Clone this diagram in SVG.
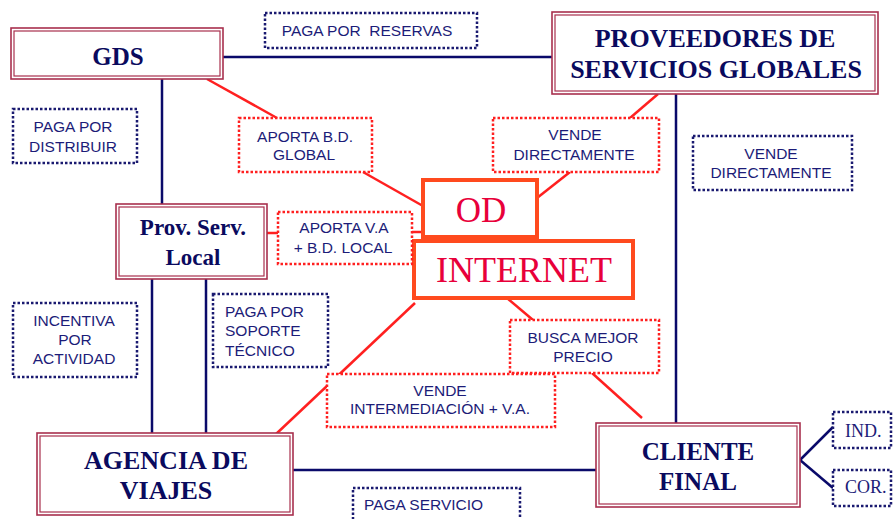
<svg xmlns="http://www.w3.org/2000/svg" width="893" height="519" viewBox="0 0 893 519">
<style>
.bg{fill:#ffffff}
.nl{stroke:#0a0a6a;stroke-width:2.5;fill:none}
.rl{stroke:#ff2020;stroke-width:2.5;fill:none}
.outer{fill:#ffffff;stroke:#a8304e;stroke-width:1.6}
.inner{fill:none;stroke:#a8304e;stroke-width:1.2}
.nd{fill:#ffffff;stroke:#1a1a70;stroke-width:2.5;stroke-dasharray:2.5 2}
.rd{fill:#ffffff;stroke:#ff2020;stroke-width:2.5;stroke-dasharray:2.5 2}
.ob{fill:#ffffff;stroke:#ff4a1e;stroke-width:4}
.h{font-family:"Liberation Serif","Times New Roman",serif;font-weight:bold;fill:#0a0a5e;text-anchor:middle}
.s{font-family:"Liberation Sans",Arial,sans-serif;font-size:15.5px;fill:#1c1c78;text-anchor:middle;white-space:pre}
.sl{text-anchor:start}
.o{font-family:"Liberation Serif","Times New Roman",serif;fill:#e8003a;text-anchor:middle}
.t{font-family:"Liberation Serif","Times New Roman",serif;font-size:18px;fill:#1c1c78}
</style>
<rect class="bg" x="0" y="0" width="893" height="519"/>
<g id="connectors">
<line class="nl" x1="223" y1="57" x2="552" y2="57"/>
<line class="nl" x1="162" y1="79" x2="162" y2="204"/>
<line class="nl" x1="152" y1="279" x2="152" y2="433"/>
<line class="nl" x1="206" y1="279" x2="206" y2="433"/>
<line class="nl" x1="676" y1="94" x2="676" y2="423"/>
<line class="nl" x1="293" y1="470" x2="596" y2="470"/>
<line class="nl" x1="800" y1="460" x2="833" y2="427"/>
<line class="nl" x1="800" y1="460" x2="833" y2="488"/>
<line class="rl" x1="207" y1="79" x2="277" y2="118"/>
<line class="rl" x1="363" y1="172" x2="423" y2="206"/>
<line class="rl" x1="658" y1="94" x2="630" y2="118"/>
<line class="rl" x1="570" y1="172" x2="537" y2="198"/>
<line class="rl" x1="267" y1="233" x2="278" y2="233"/>
<line class="rl" x1="412" y1="232" x2="423" y2="232"/>
<line class="rl" x1="415" y1="303" x2="275" y2="435"/>
<line class="rl" x1="507" y1="298" x2="533" y2="320"/>
<line class="rl" x1="592" y1="373" x2="642" y2="418"/>
</g>
<g id="gds">
<rect class="outer" x="11" y="28" width="212" height="51"/>
<rect class="inner" x="14" y="31" width="206" height="45"/>
<text class="h" x="118" y="65" font-size="25">GDS</text>
</g>
<g id="proveedores">
<rect class="outer" x="552" y="12" width="326" height="82"/>
<rect class="inner" x="555" y="15" width="320" height="76"/>
<text class="h" x="715" y="47" font-size="26">PROVEEDORES DE</text>
<text class="h" x="716" y="78" font-size="26">SERVICIOS GLOBALES</text>
</g>
<g id="provlocal">
<rect class="outer" x="116" y="204" width="151" height="75"/>
<rect class="inner" x="119" y="207" width="145" height="69"/>
<text class="h" x="193" y="235" font-size="23">Prov. Serv.</text>
<text class="h" x="193" y="265" font-size="23">Local</text>
</g>
<g id="agencia">
<rect class="outer" x="37" y="433" width="256" height="82"/>
<rect class="inner" x="40" y="436" width="250" height="76"/>
<text class="h" x="166" y="469" font-size="26">AGENCIA DE</text>
<text class="h" x="166" y="499" font-size="26">VIAJES</text>
</g>
<g id="cliente">
<rect class="outer" x="596" y="423" width="204" height="84"/>
<rect class="inner" x="599" y="426" width="198" height="78"/>
<text class="h" x="698" y="460" font-size="25">CLIENTE</text>
<text class="h" x="698" y="490" font-size="25">FINAL</text>
</g>
<g id="od">
<rect class="ob" x="423" y="180" width="114" height="57"/>
<text class="o" x="481" y="222" font-size="35">OD</text>
</g>
<g id="internet">
<rect class="ob" x="414" y="241" width="219" height="57"/>
<text class="o" x="524" y="282" font-size="36">INTERNET</text>
</g>
<g id="paga-reservas">
<rect class="nd" x="265" y="13" width="212" height="35"/>
<text class="s" x="367" y="36">PAGA POR  RESERVAS</text>
</g>
<g id="paga-distribuir">
<rect class="nd" x="13" y="109" width="124" height="54"/>
<text class="s" x="73" y="132">PAGA POR</text>
<text class="s" x="73" y="152">DISTRIBUIR</text>
</g>
<g id="aporta-global">
<rect class="rd" x="239" y="118" width="133" height="54"/>
<text class="s" x="305" y="142">APORTA B.D.</text>
<text class="s" x="304" y="160">GLOBAL</text>
</g>
<g id="vende-dir-red">
<rect class="rd" x="493" y="118" width="166" height="54"/>
<text class="s" x="575" y="140">VENDE</text>
<text class="s" x="574" y="160">DIRECTAMENTE</text>
</g>
<g id="vende-dir-navy">
<rect class="nd" x="693" y="136" width="159" height="54"/>
<text class="s" x="771" y="159">VENDE</text>
<text class="s" x="771" y="178">DIRECTAMENTE</text>
</g>
<g id="aporta-local">
<rect class="rd" x="278" y="212" width="134" height="52"/>
<text class="s" x="344" y="233">APORTA V.A</text>
<text class="s" x="343" y="253">+ B.D. LOCAL</text>
</g>
<g id="paga-soporte">
<rect class="nd" x="213" y="294" width="115" height="73"/>
<text class="s sl" x="225" y="317">PAGA POR</text>
<text class="s sl" x="225" y="336">SOPORTE</text>
<text class="s sl" x="225" y="356">TÉCNICO</text>
</g>
<g id="incentiva">
<rect class="nd" x="13" y="303" width="124" height="74"/>
<text class="s" x="74" y="326">INCENTIVA</text>
<text class="s" x="75" y="345">POR</text>
<text class="s" x="74" y="364">ACTIVIDAD</text>
</g>
<g id="busca">
<rect class="rd" x="510" y="320" width="149" height="53"/>
<text class="s" x="583" y="343">BUSCA MEJOR</text>
<text class="s" x="583" y="362">PRECIO</text>
</g>
<g id="vende-inter">
<rect class="rd" x="327" y="374" width="228" height="53"/>
<text class="s" x="440" y="396">VENDE</text>
<text class="s" x="440" y="414">INTERMEDIACIÓN + V.A.</text>
</g>
<g id="paga-servicio">
<rect class="nd" x="353" y="488" width="167" height="40"/>
<text class="s sl" x="364" y="510">PAGA SERVICIO</text>
</g>
<g id="ind">
<rect class="nd" x="833" y="412" width="58" height="36"/>
<text class="t" x="845" y="437">IND.</text>
</g>
<g id="cor">
<rect class="nd" x="833" y="470" width="58" height="36"/>
<text class="t" x="845" y="493">COR.</text>
</g>
</svg>
